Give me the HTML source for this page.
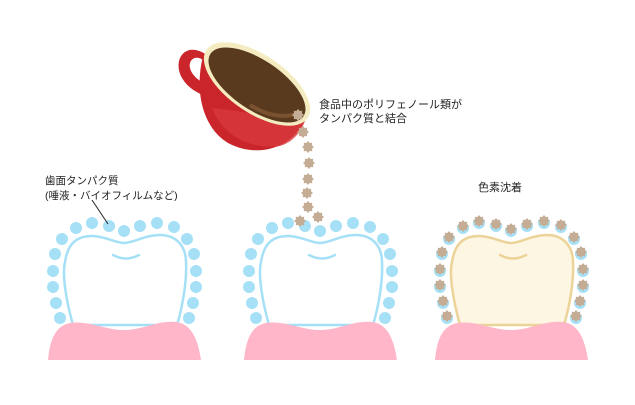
<!DOCTYPE html>
<html><head><meta charset="utf-8"><style>
html,body{margin:0;padding:0;background:#fff;width:635px;height:405px;overflow:hidden}
svg{display:block}
text{font-family:"Liberation Sans","Noto Sans CJK JP",sans-serif;fill:#222}
</style></head><body>
<svg id="s" width="635" height="405" viewBox="0 0 635 405" xmlns="http://www.w3.org/2000/svg">
<g id="teeth"></g>
<!-- cup -->
<g>
<path d="M207,55 C185,40 172,60 182,78 C188,88 196,92 205,96 L210,86 C200,82 192,76 190,68 C188,58 198,54 205,62 Z" fill="#c9252a"/>
<path d="M203,56 C194,92 203,128 228,143 C256,158 292,150 306,118 Z" fill="#c9252a"/>
<path d="M212,108 C222,135 250,150 280,146 C296,141 303,128 306,118 L290,118 Z" fill="#d8383c" opacity="0.8"/>
<ellipse cx="257" cy="84" rx="61" ry="29" transform="rotate(34 257 84)" fill="#f4ecc0"/>
<ellipse cx="257" cy="85" rx="56" ry="25" transform="rotate(34 257 85)" fill="#5a3a1e"/>
<path d="M250,105 C270,118 290,118 300,112" stroke="#7a5230" stroke-width="4" fill="none"/>
</g>
<g id="drops"></g>
<line x1="92" y1="200" x2="108" y2="224" stroke="#222" stroke-width="1"/>
<text font-size="11" x="319" y="108">食品中のポリフェノール類が</text>
<text font-size="11" x="319" y="122">タンパク質と結合</text>
<text font-size="10.5" x="45" y="184">歯面タンパク質</text>
<text font-size="10.5" x="45" y="199">(唾液・バイオフィルムなど)</text>
<text font-size="11" x="478" y="191">色素沈着</text>
</svg>
<script>
const NS="http://www.w3.org/2000/svg";
function el(p,t,a){const e=document.createElementNS(NS,t);for(const k in a)e.setAttribute(k,a[k]);p.appendChild(e);return e;}
function star(p,cx,cy,r){let pts=[];for(let i=0;i<16;i++){const rr=i%2?r*0.72:r;const a=i*Math.PI/8;pts.push((cx+rr*Math.cos(a)).toFixed(1)+","+(cy+rr*Math.sin(a)).toFixed(1));}el(p,"polygon",{points:pts.join(" "),fill:"#c4ad94"});}
const C=[[76,228],[92,223],[109,226],[124,231],[140,226],[157,223],[174,227],[187,239],[194,254],[196,271],[196,287],[193,303],[189,318],[62,239],[55,254],[53,271],[53,287],[56,303],[60,318]];
const T=document.getElementById("teeth");
[0,196,387].forEach((dx,i)=>{
 const g=el(T,"g",{transform:"translate("+dx+",0)"});
 const stroke=i==2?"#ecd398":"#a6e0f7", fill=i==2?"#fdf6e3":"#fff";
 C.forEach(c=>{el(g,"circle",{cx:c[0],cy:c[1],r:6,fill:"#a6e0f7"});});
 if(i==2)C.forEach(c=>star(g,c[0],c[1]-2,6));
 el(g,"path",{d:"M73,325 C66,300 62,275 65,262 C68,242 78,236 92,236 C105,236 115,243 124,243 C133,243 145,235 160,235 C176,235 186,246 186,262 C187,280 183,305 177,325 Z",fill:fill,stroke:stroke,"stroke-width":2.5});
 el(g,"path",{d:"M113,255 Q126,262 139,255",fill:"none",stroke:stroke,"stroke-width":2.5,"stroke-linecap":"round"});
 el(g,"path",{d:"M48,360 C50,340 55,326 70,323 C88,320 105,330 124,330 C143,330 158,320 176,322 C192,324 198,340 201,360 Z",fill:"#ffb6c8"});
});
const D=document.getElementById("drops");
[[298,115],[303,132],[308,147],[309,163],[308,179],[307,193],[308,207],[300,221],[318,217]].forEach(c=>star(D,c[0],c[1],6));
</script>
</body></html>
